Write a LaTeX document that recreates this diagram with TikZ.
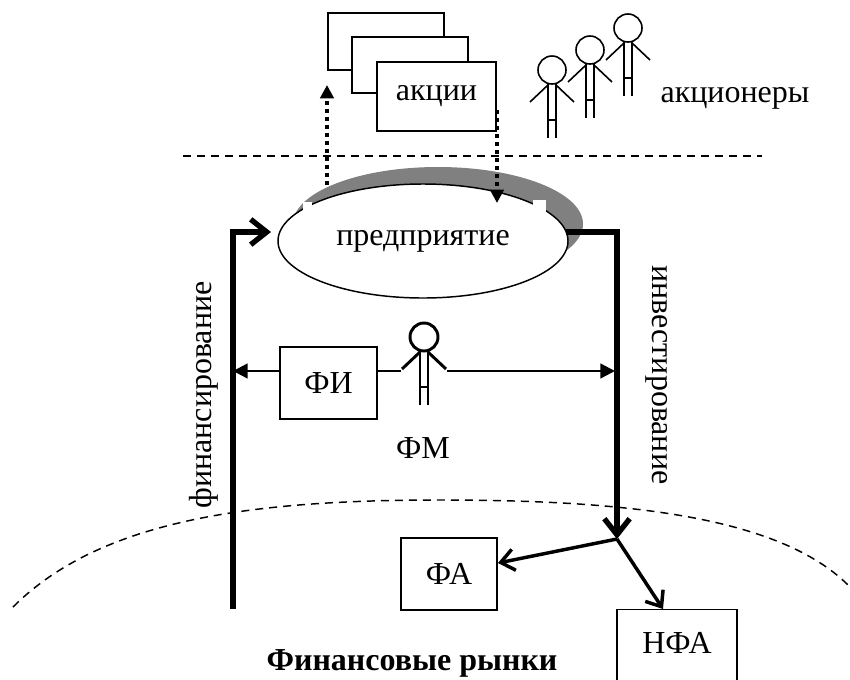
\documentclass[tikz,border=0pt]{standalone}
\usepackage{fontspec}
\setmainfont{Liberation Serif}
\usetikzlibrary{arrows.meta,shapes.geometric}
\begin{document}
\begin{tikzpicture}[x=0.75pt,y=-0.75pt,
 every node/.style={font=\fontsize{24}{28}\selectfont,inner sep=0pt},
 box/.style={draw,line width=1.1pt,fill=white,inner sep=0pt},
 border/.style={dash pattern=on 6pt off 4.5pt,line width=1.1pt},
 dotarrow/.style={line width=3pt,dash pattern=on 3pt off 3pt,-{Triangle[length=10pt,width=10pt]}},
 heavy/.style={line width=4pt,-{Straight Barb[length=12pt,width=19pt]}},
 branch/.style={line width=2.6pt,-{Straight Barb[length=10pt,width=16pt]}},
 flow/.style={line width=1.8pt,-{Triangle[length=11pt,width=11pt]}},
 plainflow/.style={line width=1.8pt},
 stickman/.pic={
   \draw (0,0) circle[radius=14];
   \draw (-4,14) -- (-4,68) (4,14) -- (4,68) (-4,50) -- (4,50);
   \draw (-4,15) -- (-22,32) (4,15) -- (22,32);
 }
]
\useasboundingbox (0,0) rectangle (850,679);
\fill[white] (0,0) rectangle (850,679);

% dashed borders
\coordinate (topL) at (183,156);
\coordinate (topR) at (762,156);
\draw[border] (topL) -- (topR);
\coordinate (arcL) at (13,607);
\coordinate (arcM) at (440,500);
\coordinate (arcR) at (850,587);
\draw[border] (arcL) .. controls (100,520) and (250,500) .. (arcM) .. controls (620,500) and (780,515) .. (arcR);

% shares
\node[box,minimum width=87pt,minimum height=42.75pt] (sh1) at (386,41.5) {};
\node[box,minimum width=87pt,minimum height=42pt] (sh2) at (410,65) {};
\node[box,minimum width=89.25pt,minimum height=51.75pt] (sh3) at (436.5,96.5) {акции};

% shareholders
\begin{scope}[line width=1.2pt]
\pic at (552,70) {stickman};
\pic at (590,50) {stickman};
\pic at (628,28) {stickman};
\end{scope}
\node[anchor=base] (holders) at (735,102) {акционеры};

% enterprise
\fill[black!50] (438,224) ellipse [x radius=145, y radius=57];
\node[draw,ellipse,fill=white,line width=1.1pt,minimum width=217.5pt,minimum height=85.5pt] (ent) at (423,241) {предприятие};
\fill[white] (303,202) rectangle (312,212);
\fill[white] (533,200) rectangle (546,212);

% dotted arrows
\coordinate (upS) at (327,185);
\coordinate (upT) at (327,85);
\draw[dotarrow] (upS) -- (upT);
\coordinate (dnS) at (497,110);
\coordinate (dnT) at (497,203);
\draw[dotarrow] (dnS) -- (dnT);

% financing
\coordinate (finB) at (233,609);
\coordinate (finC) at (233,232);
\coordinate (finT) at (271,232);
\draw[heavy] (finB) -- (finC) -- (finT);

% investing
\coordinate (invA) at (566,232);
\coordinate (invC) at (617,232);
\coordinate (J) at (617,539);
\draw[heavy] (invA) -- (invC) -- (J);

% assets
\node[box,minimum width=72pt,minimum height=54pt] (fa) at (449,574) {ФА};
\node[box,anchor=north,minimum width=90pt,text height=32.6pt,text depth=45pt] (nfa) at (677,609) {НФА};
\coordinate (faT) at (498,563);
\coordinate (nfaT) at (663,609);
\draw[branch] (J) -- (faT);
\draw[branch] (J) -- (nfaT);

% financial manager
\node[box,minimum width=72.75pt,minimum height=54pt] (fi) at (328.5,383) {ФИ};
\pic[line width=2.2pt] at (424,337) {stickman};
\coordinate (finM) at (233,371);
\coordinate (fmL) at (401,371);
\coordinate (fmR) at (447,371);
\coordinate (invM) at (615,371);
\draw[flow] (fi.west |- finM) -- (finM);
\draw[plainflow] (fi.east |- finM) -- (fmL);
\draw[flow] (fmR) -- (invM);

\node[anchor=base] (fm) at (423,458) {ФМ};
\node[rotate=90] (fin) at (204,395) {финансирование};
\node[rotate=-90] (inv) at (657,375) {инвестирование};
\node[anchor=base,font=\fontsize{24}{28}\selectfont\bfseries] (mkt) at (412,670) {Финансовые рынки};
\end{tikzpicture}
\end{document}
